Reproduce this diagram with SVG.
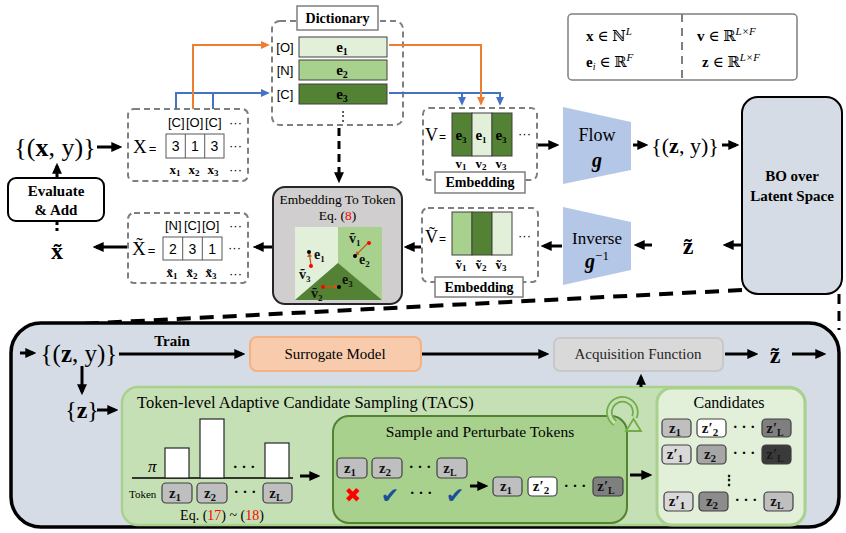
<svg xmlns="http://www.w3.org/2000/svg" width="846" height="533" viewBox="0 0 846 533">
<style>
.sf{font-family:"Liberation Serif","DejaVu Serif",serif}
.ss{font-family:"Liberation Sans","DejaVu Sans",sans-serif}
.b{font-weight:bold}
.dash{fill:none;stroke:#7f7f7f;stroke-width:2;stroke-dasharray:6 4}
.lab{fill:#fff;stroke:#7f7f7f;stroke-width:1.5}
.ar{stroke:#000;stroke-width:3;fill:none;marker-end:url(#ah)}
.cell{fill:#fff;stroke:#595959;stroke-width:1}
.chip{stroke:#404040;stroke-width:1.2}
.ct{font-family:"Liberation Serif","DejaVu Serif",serif;font-weight:bold;font-size:15px;text-anchor:middle;fill:#111}
.mid{text-anchor:middle}
</style>
<defs>
<marker id="ah" viewBox="0 0 10 10" refX="7" refY="5" markerWidth="11" markerHeight="11" markerUnits="userSpaceOnUse" orient="auto"><path d="M0,0.5 L10,5 L0,9.5 z" fill="#000"/></marker>
<marker id="ao" viewBox="0 0 10 10" refX="8" refY="5" markerWidth="9" markerHeight="9" markerUnits="userSpaceOnUse" orient="auto"><path d="M0,0.5 L10,5 L0,9.5 z" fill="#ed7d31"/></marker>
<marker id="ab" viewBox="0 0 10 10" refX="8" refY="5" markerWidth="9" markerHeight="9" markerUnits="userSpaceOnUse" orient="auto"><path d="M0,0.5 L10,5 L0,9.5 z" fill="#4472c4"/></marker>
</defs>

<!-- Dashed link BO to panel (under panel) -->
<g id="bo-link">
<line x1="742" y1="290" x2="60" y2="325" stroke="#000" stroke-width="4" stroke-dasharray="14 9"/>
<line x1="839" y1="294" x2="839" y2="330" stroke="#000" stroke-width="3" stroke-dasharray="10 7"/>
</g>

<!-- Legend -->
<g id="legend">
<rect x="568" y="14" width="229" height="66" rx="4" fill="#fff" stroke="#7f7f7f" stroke-width="1.5"/>
<line x1="682" y1="14" x2="682" y2="80" stroke="#7f7f7f" stroke-width="2" stroke-dasharray="8 6"/>
<text x="586" y="41" class="sf" font-size="15"><tspan class="b">x</tspan> ∈ ℕ<tspan font-size="11" dy="-6" font-style="italic">L</tspan></text>
<text x="586" y="67" class="sf" font-size="15"><tspan class="b">e</tspan><tspan font-size="10" dy="3" font-style="italic">i</tspan><tspan dy="-3"> ∈ ℝ</tspan><tspan font-size="11" dy="-6" font-style="italic">F</tspan></text>
<text x="697" y="41" class="sf" font-size="15"><tspan class="b">v</tspan> ∈ ℝ<tspan font-size="11" dy="-6" font-style="italic">L×F</tspan></text>
<text x="702" y="67" class="sf" font-size="15"><tspan class="b">z</tspan> ∈ ℝ<tspan font-size="11" dy="-6" font-style="italic">L×F</tspan></text>
</g>

<!-- top-left data -->
<g id="data-xy">
<text x="55" y="156" class="sf mid" font-size="26">{(<tspan class="b">x</tspan>, y)}</text>
</g>
<g id="evaluate">
<rect x="8" y="178" width="96" height="43" rx="8" fill="#fff" stroke="#000" stroke-width="2"/>
<text x="56" y="196" class="sf b mid" font-size="15">Evaluate</text>
<text x="56" y="215" class="sf b mid" font-size="15">&amp; Add</text>
</g>
<g id="x-tilde">
<text x="57" y="259" class="sf b mid" font-size="24">x̃</text>
</g>

<!-- X box -->
<g id="X-box">
<rect x="128" y="109" width="120" height="72" rx="6" class="dash"/>
<text y="127" class="ss" font-size="13"><tspan x="168">[C]</tspan><tspan x="186">[O]</tspan><tspan x="205">[C]</tspan><tspan x="229">···</tspan></text>
<text x="133" y="153" class="sf" font-size="19">X<tspan class="ss" font-size="13" dx="2">=</tspan></text>
<rect x="166" y="134" width="58" height="24" class="cell"/>
<line x1="185.3" y1="134" x2="185.3" y2="158" stroke="#595959"/>
<line x1="204.7" y1="134" x2="204.7" y2="158" stroke="#595959"/>
<text y="151" class="ss mid" font-size="14"><tspan x="175.7">3</tspan><tspan x="195">1</tspan><tspan x="214.3">3</tspan></text>
<text x="229" y="150" class="ss" font-size="13">···</text>
<text y="174" class="sf b mid" font-size="13"><tspan x="175">x<tspan font-size="9" dy="2">1</tspan></tspan><tspan x="194" dy="-2">x<tspan font-size="9" dy="2">2</tspan></tspan><tspan x="213" dy="-2">x<tspan font-size="9" dy="2">3</tspan></tspan></text>
<text x="229" y="174" class="ss" font-size="13">···</text>
</g>

<!-- X tilde box -->
<g id="Xt-box">
<rect x="128" y="213" width="120" height="70" rx="6" class="dash"/>
<text y="230" class="ss" font-size="13"><tspan x="165">[N]</tspan><tspan x="184">[C]</tspan><tspan x="202">[O]</tspan><tspan x="229">···</tspan></text>
<text x="132" y="255" class="sf" font-size="19">X̃<tspan class="ss" font-size="13" dx="2">=</tspan></text>
<rect x="163" y="237" width="59" height="23" class="cell"/>
<line x1="182.7" y1="237" x2="182.7" y2="260" stroke="#595959"/>
<line x1="202.3" y1="237" x2="202.3" y2="260" stroke="#595959"/>
<text y="254" class="ss mid" font-size="14"><tspan x="172.8">2</tspan><tspan x="192.5">3</tspan><tspan x="212.2">1</tspan></text>
<text x="228" y="252" class="ss" font-size="13">···</text>
<text y="277" class="sf b mid" font-size="13"><tspan x="172">x̃<tspan font-size="9" dy="2">1</tspan></tspan><tspan x="192" dy="-2">x̃<tspan font-size="9" dy="2">2</tspan></tspan><tspan x="211" dy="-2">x̃<tspan font-size="9" dy="2">3</tspan></tspan></text>
<text x="229" y="278" class="ss" font-size="13">···</text>
</g>

<!-- Dictionary -->
<g id="dictionary">
<rect x="272" y="21" width="131" height="104" rx="8" class="dash"/>
<rect x="297" y="6" width="81" height="24" class="lab"/>
<text x="337.5" y="23" class="sf b mid" font-size="14">Dictionary</text>
<rect x="299" y="37" width="88" height="20" fill="#e2efd9" stroke="#404040"/>
<rect x="299" y="60" width="88" height="20" fill="#a9d18e" stroke="#404040"/>
<rect x="299" y="84" width="88" height="20" fill="#548235" stroke="#404040"/>
<text x="285" class="ss mid" font-size="13"><tspan x="285" y="52">[O]</tspan><tspan x="285" y="75">[N]</tspan><tspan x="285" y="99">[C]</tspan></text>
<text class="sf b mid" font-size="15"><tspan x="342" y="52">e<tspan font-size="10" dy="3">1</tspan></tspan><tspan x="342" y="75">e<tspan font-size="10" dy="3">2</tspan></tspan><tspan x="342" y="99">e<tspan font-size="10" dy="3">3</tspan></tspan></text>
<text x="343" y="120" class="sf mid" font-size="12">⋮</text>
</g>

<!-- V box -->
<g id="V-box">
<rect x="423" y="108" width="114" height="72" rx="6" class="dash"/>
<text x="425" y="141" class="sf" font-size="18">V<tspan class="ss" font-size="12" dx="1">=</tspan></text>
<rect x="452" y="113" width="20" height="43" fill="#548235" stroke="#404040"/>
<rect x="472" y="113" width="20" height="43" fill="#e2efd9" stroke="#404040"/>
<rect x="492" y="113" width="20" height="43" fill="#548235" stroke="#404040"/>
<text y="140" class="sf b mid" font-size="15"><tspan x="461">e<tspan font-size="9" dy="3">3</tspan></tspan><tspan x="481" dy="-3">e<tspan font-size="9" dy="3">1</tspan></tspan><tspan x="501" dy="-3">e<tspan font-size="9" dy="3">3</tspan></tspan></text>
<text x="518" y="138" class="ss" font-size="13">···</text>
<text y="168" class="sf b mid" font-size="13"><tspan x="461">v<tspan font-size="9" dy="2">1</tspan></tspan><tspan x="481" dy="-2">v<tspan font-size="9" dy="2">2</tspan></tspan><tspan x="501" dy="-2">v<tspan font-size="9" dy="2">3</tspan></tspan></text>
<rect x="435" y="172" width="90" height="21" class="lab"/>
<text x="480" y="187" class="sf b mid" font-size="14">Embedding</text>
</g>

<!-- V tilde box -->
<g id="Vt-box">
<rect x="422" y="208" width="116" height="74" rx="6" class="dash"/>
<text x="425" y="243" class="sf" font-size="18">Ṽ<tspan class="ss" font-size="12" dx="1">=</tspan></text>
<rect x="452" y="212" width="20" height="43" fill="#a9d18e" stroke="#404040"/>
<rect x="472" y="212" width="20" height="43" fill="#548235" stroke="#404040"/>
<rect x="492" y="212" width="20" height="43" fill="#e2efd9" stroke="#404040"/>
<text x="518" y="240" class="ss" font-size="13">···</text>
<text y="269" class="sf b mid" font-size="13"><tspan x="461">ṽ<tspan font-size="9" dy="2">1</tspan></tspan><tspan x="481" dy="-2">ṽ<tspan font-size="9" dy="2">2</tspan></tspan><tspan x="501" dy="-2">ṽ<tspan font-size="9" dy="2">3</tspan></tspan></text>
<rect x="435" y="277" width="88" height="20" class="lab"/>
<text x="479" y="292" class="sf b mid" font-size="14">Embedding</text>
</g>

<!-- Embedding to token -->
<g id="emb2tok">
<rect x="273" y="187" width="129" height="117" rx="12" fill="#d0cece" stroke="#262626" stroke-width="2"/>
<text x="337.5" y="204" class="sf mid" font-size="13.5">Embedding To Token</text>
<text x="337.5" y="220" class="sf mid" font-size="13.5">Eq. (<tspan fill="#ff0000">8</tspan>)</text>
<polygon points="295,227 338,227 338,263 295,300" fill="#e2efd9"/>
<polygon points="338,227 382,227 382,300 338,263" fill="#a9d18e"/>
<polygon points="295,300 338,263 382,300" fill="#548235"/>
<g stroke="#c55a11" stroke-width="1.3">
<line x1="311" y1="265" x2="309.5" y2="255"/>
<line x1="368" y1="243" x2="357" y2="254"/>
<line x1="323" y1="287" x2="336" y2="286.5"/>
</g>
<g fill="#c55a11">
<path d="M309.3,253 L307,257 L312,256.5 z"/>
<path d="M355.5,255.5 L356.5,251 L359.5,254.5 z"/>
<path d="M338,286.5 L334,284 L334,289 z"/>
</g>
<g fill="#000"><circle cx="309" cy="252" r="2"/><circle cx="355" cy="256" r="2"/><circle cx="339" cy="287" r="2"/></g>
<g fill="#ff0000"><circle cx="311" cy="266" r="2"/><circle cx="369" cy="243" r="2"/><circle cx="323" cy="287" r="2"/></g>
<text class="sf b" font-size="14" fill="#111">
<tspan x="314" y="259">e<tspan font-size="9" dy="3">1</tspan></tspan>
<tspan x="359" y="264">e<tspan font-size="9" dy="3">2</tspan></tspan>
<tspan x="342" y="284">e<tspan font-size="9" dy="3">3</tspan></tspan>
<tspan x="349" y="243">ṽ<tspan font-size="9" dy="3">1</tspan></tspan>
<tspan x="299" y="279">ṽ<tspan font-size="9" dy="3">3</tspan></tspan>
<tspan x="311" y="298">ṽ<tspan font-size="9" dy="3">2</tspan></tspan>
</text>
</g>

<!-- Flow / Inverse -->
<g id="flow">
<polygon points="563,107 631,122 631,170 563,184" fill="#b4c7e7"/>
<text x="597" y="141" class="sf mid" font-size="18">Flow</text>
<text x="597" y="167" class="sf mid b" font-style="italic" font-size="20">g</text>
</g>
<g id="inverse">
<polygon points="563,207 631,222 631,270 563,285" fill="#b4c7e7"/>
<text x="597" y="244" class="sf mid" font-size="17">Inverse</text>
<text x="597" y="268" class="sf mid b" font-style="italic" font-size="20">g<tspan font-size="13" dy="-8" font-style="normal" font-weight="normal">−1</tspan></text>
</g>
<g id="zy-top">
<text x="685" y="153" class="sf mid" font-size="22">{(<tspan class="b">z</tspan>, y)}</text>
</g>
<g id="zt-top">
<text x="688" y="254" class="sf b mid" font-size="24">z̃</text>
</g>
<g id="bo">
<rect x="742" y="97" width="100" height="197" rx="16" fill="#d6dce5" stroke="#000" stroke-width="2"/>
<text x="792" y="181" class="sf b mid" font-size="15">BO over</text>
<text x="792" y="201" class="sf b mid" font-size="15">Latent Space</text>
</g>

<!-- Bottom panel -->
<g id="panel">
<rect x="11" y="323" width="828" height="204" rx="30" fill="#d6dce5" stroke="#000" stroke-width="3.5"/>
</g>
<g id="zy-bottom">
<text x="79" y="362" class="sf mid" font-size="25">{(<tspan class="b">z</tspan>, y)}</text>
<text x="172" y="346" class="sf b mid" font-size="15">Train</text>
</g>
<g id="z-set">
<text x="82" y="418" class="sf mid" font-size="24">{<tspan class="b">z</tspan>}</text>
</g>
<g id="surrogate">
<rect x="250" y="337" width="171" height="34" rx="7" fill="#f8cbad" stroke="#f4b183" stroke-width="2"/>
<text x="335" y="359" class="sf mid" font-size="15">Surrogate Model</text>
</g>
<g id="acquisition">
<rect x="554" y="338" width="169" height="33" rx="6" fill="#d9d9d9" stroke="#c8c8c8" stroke-width="2"/>
<text x="638" y="359" class="sf mid" font-size="15" fill="#262626">Acquisition Function</text>
</g>
<g id="zt-bottom">
<text x="775" y="363" class="sf b mid" font-size="24">z̃</text>
</g>

<!-- TACS -->
<g id="tacs">
<rect x="122" y="387" width="683" height="138" rx="16" fill="#c5e0b4" stroke="#a9d18e" stroke-width="2.5"/>
<text x="137" y="408" class="sf" font-size="16.5">Token-level Adaptive Candidate Sampling (TACS)</text>
<line x1="132" y1="478" x2="293" y2="478" stroke="#000" stroke-width="1.5"/>
<rect x="165" y="448" width="24" height="30" fill="#fff" stroke="#262626" stroke-width="1.2"/>
<rect x="200" y="419" width="24" height="59" fill="#fff" stroke="#262626" stroke-width="1.2"/>
<rect x="265" y="443" width="24" height="35" fill="#fff" stroke="#262626" stroke-width="1.2"/>
<text x="148" y="472" class="sf" font-style="italic" font-size="17">π</text>
<text x="244" y="472" class="sf b mid" font-size="15">· · ·</text>
<text x="129" y="498" class="sf" font-size="11">Token</text>
<rect x="162" y="483" width="30" height="20" rx="4" class="chip" fill="#bfbfbf"/>
<rect x="197" y="483" width="30" height="20" rx="4" class="chip" fill="#bfbfbf"/>
<rect x="263" y="483" width="29" height="20" rx="4" class="chip" fill="#bfbfbf"/>
<text y="498" class="ct"><tspan x="175">z<tspan font-size="11" dy="3">1</tspan></tspan><tspan x="210" dy="-3">z<tspan font-size="11" dy="3">2</tspan></tspan><tspan x="276" dy="-3">z<tspan font-size="10" dy="3">L</tspan></tspan></text>
<text x="245" y="497" class="sf b mid" font-size="15">· · ·</text>
<text x="222" y="520" class="sf mid" font-size="14">Eq. (<tspan fill="#ff0000">17</tspan>) ~ (<tspan fill="#ff0000">18</tspan>)</text>
</g>

<g id="sample-perturb">
<rect x="333" y="416" width="294" height="107" rx="16" fill="#a9d18e" stroke="#548235" stroke-width="2"/>
<path d="M615,423 A13,13 0 1 1 634.5,417" fill="none" stroke="#70ad47" stroke-width="6.5"/>
<path d="M615,423 A13,13 0 1 1 634.5,417" fill="none" stroke="#c5e0b4" stroke-width="3"/>
<polygon points="626,431 641,431 633.5,419" fill="#c5e0b4" stroke="#70ad47" stroke-width="1.8"/>
<text x="480" y="437" class="sf mid" font-size="15.5">Sample and Perturbate Tokens</text>
<rect x="337" y="458" width="30" height="20" rx="4" class="chip" fill="#bfbfbf"/>
<rect x="372" y="458" width="30" height="20" rx="4" class="chip" fill="#bfbfbf"/>
<rect x="437" y="458" width="30" height="20" rx="4" class="chip" fill="#bfbfbf"/>
<text y="473" class="ct"><tspan x="350">z<tspan font-size="11" dy="3">1</tspan></tspan><tspan x="385" dy="-3">z<tspan font-size="11" dy="3">2</tspan></tspan><tspan x="450" dy="-3">z<tspan font-size="10" dy="3">L</tspan></tspan></text>
<text x="420" y="472" class="sf b mid" font-size="15">· · ·</text>
<text x="353" y="502" class="ss mid" font-size="20" fill="#ff0000">✖</text>
<text x="390" y="503" class="ss mid" font-size="22" fill="#1f4e99">✔</text>
<text x="421" y="498" class="sf b mid" font-size="15">· · ·</text>
<text x="455" y="503" class="ss mid" font-size="22" fill="#1f4e99">✔</text>
<rect x="493" y="477" width="29" height="19" rx="4" class="chip" fill="#bfbfbf"/>
<rect x="528" y="477" width="29" height="19" rx="4" class="chip" fill="#ffffff"/>
<rect x="593" y="477" width="30" height="19" rx="4" class="chip" fill="#7f7f7f"/>
<text y="491" class="ct"><tspan x="506">z<tspan font-size="11" dy="3">1</tspan></tspan><tspan x="541" dy="-3">z′<tspan font-size="11" dy="3">2</tspan></tspan><tspan x="606" dy="-3">z′<tspan font-size="10" dy="3">L</tspan></tspan></text>
<text x="575" y="491" class="sf b mid" font-size="15">· · ·</text>
</g>

<g id="candidates">
<rect x="657" y="388" width="148" height="137" rx="15" fill="#e2efd9" stroke="#a9d18e" stroke-width="3"/>
<text x="729" y="408" class="sf mid" font-size="16">Candidates</text>
<rect x="662" y="419" width="29" height="18" rx="4" class="chip" fill="#bfbfbf"/>
<rect x="697" y="419" width="29" height="18" rx="4" class="chip" fill="#ffffff"/>
<rect x="762" y="419" width="29" height="18" rx="4" class="chip" fill="#7f7f7f"/>
<text y="433" class="ct"><tspan x="675">z<tspan font-size="11" dy="3">1</tspan></tspan><tspan x="710" dy="-3">z′<tspan font-size="11" dy="3">2</tspan></tspan><tspan x="775" dy="-3">z′<tspan font-size="10" dy="3">L</tspan></tspan></text>
<text x="744" y="432" class="sf b mid" font-size="15">· · ·</text>
<rect x="662" y="445" width="29" height="19" rx="4" class="chip" fill="#d9d9d9"/>
<rect x="697" y="445" width="29" height="19" rx="4" class="chip" fill="#a6a6a6"/>
<rect x="762" y="445" width="29" height="19" rx="4" class="chip" fill="#3a3a3a"/>
<text y="459" class="ct"><tspan x="675">z′<tspan font-size="11" dy="3">1</tspan></tspan><tspan x="710" dy="-3">z<tspan font-size="11" dy="3">2</tspan></tspan><tspan x="775" dy="-3" fill="#1a1a1a">z′<tspan font-size="10" dy="3">L</tspan></tspan></text>
<text x="744" y="458" class="sf b mid" font-size="15">· · ·</text>
<text x="729" y="485" class="sf b mid" font-size="14">⋮</text>
<rect x="664" y="492" width="29" height="19" rx="4" class="chip" fill="#d9d9d9"/>
<rect x="699" y="492" width="29" height="19" rx="4" class="chip" fill="#8c8c8c"/>
<rect x="764" y="492" width="29" height="19" rx="4" class="chip" fill="#bfbfbf"/>
<text y="506" class="ct"><tspan x="677">z′<tspan font-size="11" dy="3">1</tspan></tspan><tspan x="712" dy="-3">z<tspan font-size="11" dy="3">2</tspan></tspan><tspan x="777" dy="-3">z<tspan font-size="10" dy="3">L</tspan></tspan></text>
<text x="746" y="505" class="sf b mid" font-size="15">· · ·</text>
</g>

<!-- Connectors -->
<g id="connectors">
<path d="M176,109 V93 H268" stroke="#4472c4" stroke-width="2" fill="none" marker-end="url(#ab)"/>
<line x1="213" y1="109" x2="213" y2="93" stroke="#4472c4" stroke-width="2"/>
<path d="M389,93 H500 V104" stroke="#4472c4" stroke-width="2" fill="none" marker-end="url(#ab)"/>
<path d="M462,93 V104" stroke="#4472c4" stroke-width="2" fill="none" marker-end="url(#ab)"/>
<path d="M193,109 V45 H268" stroke="#ed7d31" stroke-width="2" fill="none" marker-end="url(#ao)"/>
<path d="M389,45 H481 V104" stroke="#ed7d31" stroke-width="2" fill="none" marker-end="url(#ao)"/>
<line x1="339" y1="128" x2="339" y2="180" stroke="#000" stroke-width="3" stroke-dasharray="8 5" marker-end="url(#ah)"/>
<line x1="97" y1="147" x2="119" y2="147" class="ar"/>
<line x1="57" y1="177" x2="57" y2="166" class="ar"/>
<line x1="57" y1="222" x2="57" y2="234" stroke="#000" stroke-width="3" stroke-dasharray="3 3"/>
<line x1="538" y1="145" x2="556" y2="145" class="ar"/>
<line x1="633" y1="145" x2="645" y2="145" class="ar"/>
<line x1="722" y1="145" x2="736" y2="145" class="ar"/>
<line x1="741" y1="245" x2="726" y2="245" class="ar"/>
<line x1="652" y1="245" x2="637" y2="245" class="ar"/>
<line x1="562" y1="246" x2="544" y2="246" class="ar"/>
<line x1="421" y1="247" x2="407" y2="247" class="ar"/>
<line x1="272" y1="247" x2="256" y2="247" class="ar"/>
<line x1="127" y1="247" x2="96" y2="247" class="ar"/>
<line x1="20" y1="353" x2="33" y2="353" class="ar"/>
<line x1="119" y1="354" x2="242" y2="354" class="ar"/>
<line x1="422" y1="354" x2="546" y2="354" class="ar"/>
<line x1="725" y1="354" x2="755" y2="354" class="ar"/>
<line x1="792" y1="354" x2="823" y2="354" class="ar"/>
<line x1="641" y1="387" x2="641" y2="377" class="ar"/>
<line x1="82" y1="366" x2="82" y2="392" class="ar"/>
<line x1="97" y1="410" x2="115" y2="410" class="ar"/>
<line x1="300" y1="476" x2="317" y2="476" class="ar"/>
<line x1="470" y1="486" x2="485" y2="486" class="ar"/>
<line x1="630" y1="475" x2="649" y2="475" class="ar"/>
</g>
</svg>
